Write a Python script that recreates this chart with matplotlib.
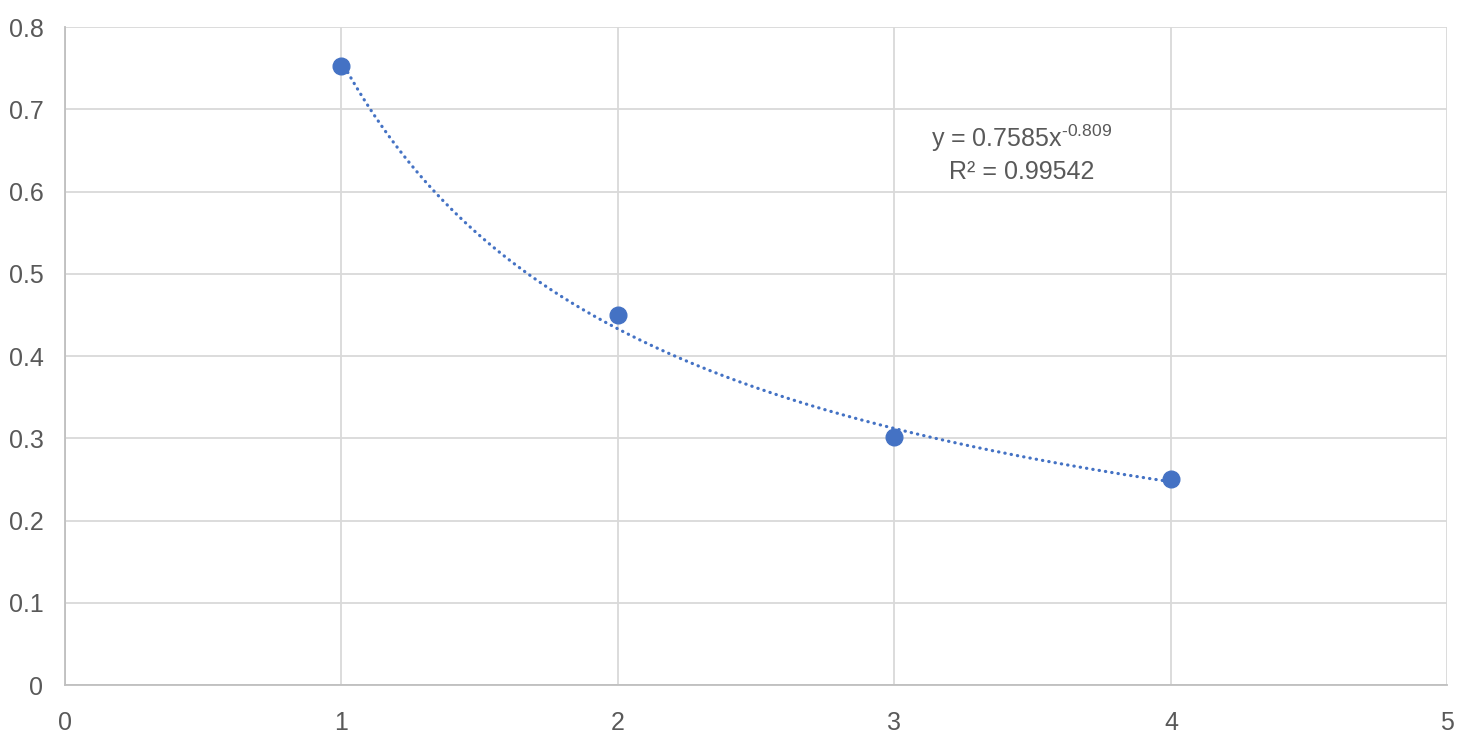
import numpy as np
import matplotlib.pyplot as plt

# measured points
x_vals = [1, 2, 3, 4]
y_vals = [0.752, 0.45, 0.302, 0.25]

# power trendline as shown on the chart: y = a * x^b
coef_a = 0.7585
coef_b = -0.809
r_squared = 0.99542

x_ticks = [0, 1, 2, 3, 4, 5]
y_ticks = [0, 0.1, 0.2, 0.3, 0.4, 0.5, 0.6, 0.7, 0.8]

plt.rcParams['font.family'] = ['Liberation Sans', 'DejaVu Sans']
plt.rcParams['mathtext.fontset'] = 'custom'
plt.rcParams['mathtext.rm'] = 'Liberation Sans'
plt.rcParams['mathtext.it'] = 'Liberation Sans'

blue = '#4472C4'
text_col = '#595959'
grid_col = '#d9d9d9'

fig = plt.figure(figsize=(14.8, 7.42), dpi=100)
ax = fig.add_axes([0.0439, 0.0768, 0.9341, 0.8868])

# trendline
xs = np.linspace(x_vals[0], x_vals[-1], 300)
ax.plot(xs, coef_a * xs ** coef_b, color=blue, linewidth=2.3,
        linestyle=(0, (0.1, 1.9)), dash_capstyle='round', zorder=2)

ax.plot(x_vals, y_vals, 'o', color=blue, markersize=12, zorder=3)

ax.set_xlim(0, 5)
ax.set_ylim(0, 0.8)
ax.set_xticks(x_ticks)
ax.set_yticks(y_ticks)
ax.set_xticklabels([str(t) for t in x_ticks])
ax.set_yticklabels(['0'] + ['%.1f' % t for t in y_ticks[1:]])
ax.tick_params(length=0, labelsize=18, colors=text_col)
ax.tick_params(axis='x', pad=19)
ax.tick_params(axis='y', pad=15.5)

ax.grid(True, color=grid_col, linewidth=1.3)
ax.set_axisbelow(True)
for side in ['top', 'right']:
    ax.spines[side].set_visible(False)
for side in ['left', 'bottom']:
    ax.spines[side].set_color('#bfbfbf')
    ax.spines[side].set_linewidth(1.3)

ax.text(3.46, 0.665, 'y = %.4fx$^{\u2010%.3f}$' % (coef_a, abs(coef_b)),
        ha='center', va='center', fontsize=18, color=text_col)
ax.text(3.46, 0.624, 'R² = %.5f' % r_squared,
        ha='center', va='center', fontsize=18, color=text_col)

fig.savefig('out.png', dpi=100)
